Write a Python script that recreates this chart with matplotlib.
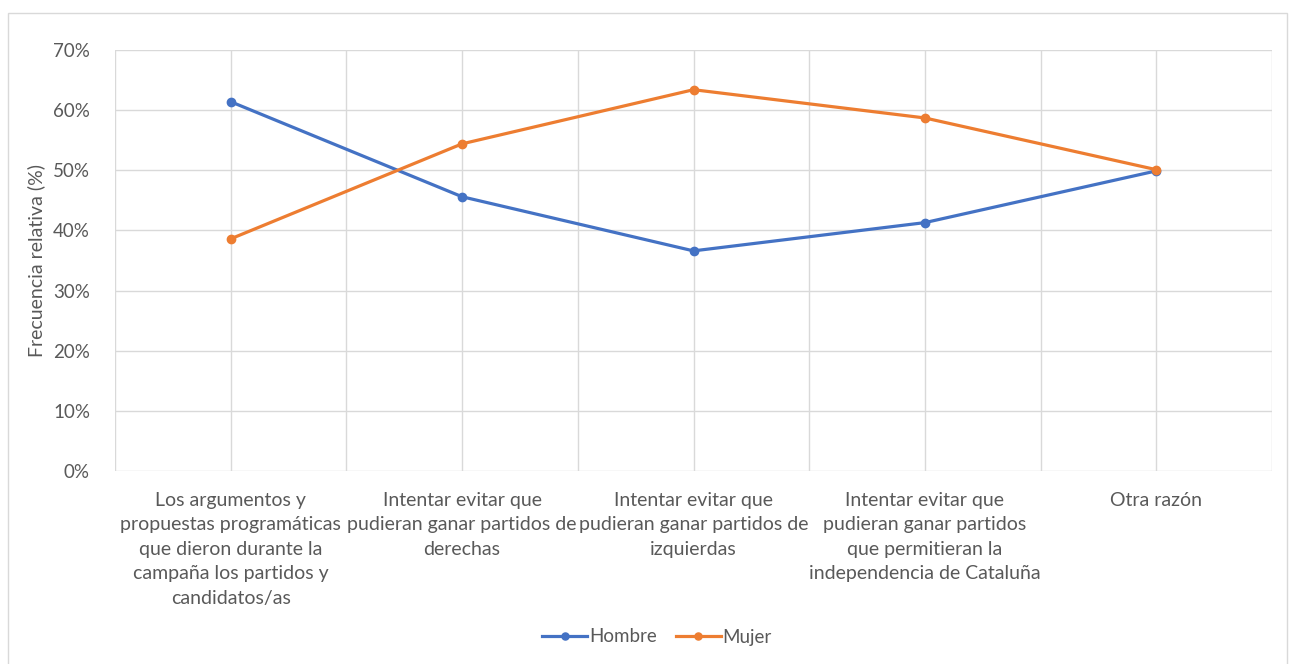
import matplotlib
matplotlib.use("Agg")
from matplotlib import pyplot as plt
from matplotlib.patches import Rectangle

categorias = [
    "Los argumentos y\npropuestas programáticas\nque dieron durante la\ncampaña los partidos y\ncandidatos/as",
    "Intentar evitar que\npudieran ganar partidos de\nderechas",
    "Intentar evitar que\npudieran ganar partidos de\nizquierdas",
    "Intentar evitar que\npudieran ganar partidos\nque permitieran la\nindependencia de Cataluña",
    "Otra razón",
]
hombre = [61.4, 45.6, 36.6, 41.3, 49.9]
mujer = [38.6, 54.4, 63.4, 58.7, 50.1]
yticks = [0, 10, 20, 30, 40, 50, 60, 70]

plt.rcParams['font.family'] = ['Lato', 'DejaVu Sans']
gris = '#595959'

fig = plt.figure(figsize=(12.92, 6.64), dpi=100)
ax = fig.add_axes([115/1292, 1 - 471/664, (1272-115)/1292, (471-50)/664])

# marco exterior del gráfico
fig.patches.append(Rectangle((8/1292, -0.01), (1287-8)/1292, 1 - 13/664 + 0.01,
                             transform=fig.transFigure, fill=False,
                             edgecolor='#d9d9d9', linewidth=1))

x = list(range(len(categorias)))
ax.plot(x, hombre, color='#4472c4', linewidth=2.3, marker='o', markersize=6, label='Hombre')
ax.plot(x, mujer, color='#ed7d31', linewidth=2.3, marker='o', markersize=6, label='Mujer')

ax.set_xlim(-0.5, len(categorias) - 0.5)
ax.set_ylim(0, 70)
ax.set_yticks(yticks)
ax.set_yticklabels([f"{v}%" for v in yticks])
ax.set_xticks(x)
ax.set_xticklabels(categorias, linespacing=1.53)

# rejilla horizontal y vertical (centros y límites de categoría)
for v in yticks:
    ax.axhline(v, color='#d9d9d9', linewidth=1, zorder=0)
for k in range(2 * len(categorias) + 1):
    ax.axvline(-0.5 + k * 0.5, color='#d9d9d9', linewidth=1, zorder=0)

for s in ax.spines.values():
    s.set_visible(False)
ax.tick_params(axis='both', length=0, colors=gris)
ax.tick_params(axis='x', pad=15, labelsize=14)
ax.tick_params(axis='y', pad=18, labelsize=13.5)
ax.set_ylabel('Frecuencia relativa (%)', fontsize=14, color=gris, labelpad=6)

leg = fig.legend(loc='center', bbox_to_anchor=(657/1292, 1 - 637/664), ncol=2,
                 frameon=False, fontsize=13.5, handlelength=2.4, columnspacing=1.0,
                 handletextpad=0.1, markerscale=0.85)
for t in leg.get_texts():
    t.set_color(gris)

fig.savefig('out.png', dpi=100)
